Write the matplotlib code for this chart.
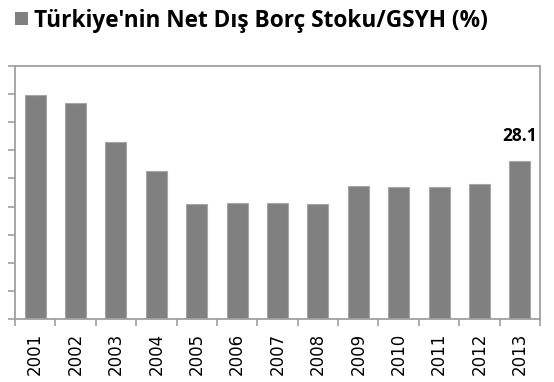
import matplotlib.pyplot as plt
from matplotlib.patches import Rectangle
import numpy as np

# net external debt stock / GDP, percent
years = ["2001", "2002", "2003", "2004", "2005", "2006", "2007",
         "2008", "2009", "2010", "2011", "2012", "2013"]
debt = [39.9, 38.4, 31.5, 26.3, 20.5, 20.7, 20.7, 20.4, 23.7, 23.5, 23.5, 24.1, 28.1]
label_years = ["2013"]
title = "Türkiye'nin Net Dış Borç Stoku/GSYH (%)"

grey = "#808080"
axis_col = "#a0a0a0"
W, H = 554, 382

fig = plt.figure(figsize=(W / 100, H / 100), dpi=100)
ax = fig.add_axes([15/W, 1 - 319/H, 525/W, 253/H])

x = np.arange(len(years))
bars = ax.bar(x, debt, width=0.52, color=grey, edgecolor="#a6a6a6", linewidth=0.8)

for i, y in enumerate(years):
    if y in label_years:
        ax.text(x[i], debt[i] + 2.9, f"{debt[i]:.1f}", ha="center", va="bottom",
                fontsize=12.5, fontweight="bold", family="Open Sans")

ax.set_xlim(-0.5, len(years) - 0.5)
ax.set_ylim(0, 45)
ax.set_yticks(np.arange(0, 46, 5))
ax.set_yticklabels([])
ax.set_xticks(x)
ax.set_xticklabels(years, rotation=90, fontsize=12)
ax.set_xticks(np.arange(-0.5, len(years)), minor=True)
ax.tick_params(axis="x", which="major", length=0, pad=10)
ax.tick_params(axis="x", which="minor", length=5, width=1.2, color=axis_col)
ax.tick_params(axis="y", length=5, width=1.2, color=axis_col)
for s in ax.spines.values():
    s.set_color(axis_col)
    s.set_linewidth(1.3)

# legend-style title: grey square + bold text
fig.patches.append(Rectangle((15/W, 1 - 25/H), 13/W, 13/H, transform=fig.transFigure,
                             facecolor=grey, edgecolor="none"))
fig.text(34/W, 1 - 27/H, title, ha="left", va="baseline", fontsize=16.3,
         fontweight="bold", family="Open Sans")

fig.savefig("out.png", dpi=100)
